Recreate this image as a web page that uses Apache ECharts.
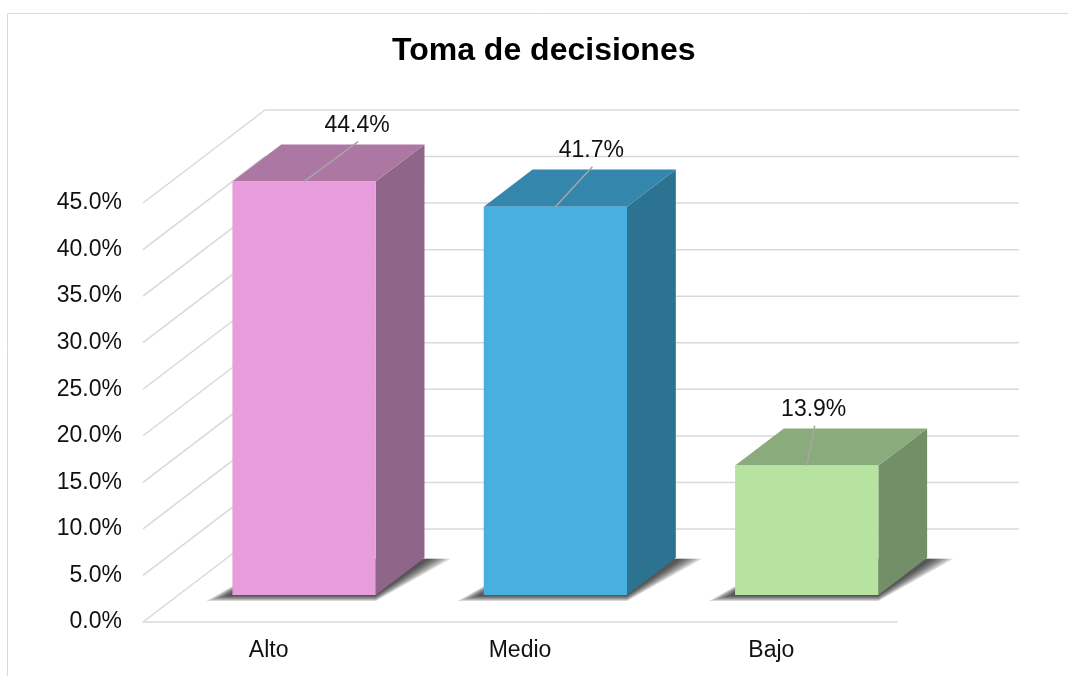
<!DOCTYPE html>
<html>
<head>
<meta charset="utf-8">
<script src="https://cdn.jsdelivr.net/npm/echarts@6/dist/echarts.min.js"></script>
<style>
  html, body { margin: 0; padding: 0; background: #fff; }
  #chart { width: 1068px; height: 676px; }
</style>
</head>
<body>
<div id="chart"></div>
<script>
// datos
const categories = ['Alto', 'Medio', 'Bajo']
const values = [44.4, 41.7, 13.9]
const yTicks = [0, 5, 10, 15, 20, 25, 30, 35, 40, 45]

// estilo de las barras: frente, tapa, lado
const faceColors = [
  ['#E79CDC', '#AD77A4', '#8F6689'],
  ['#47B0E0', '#3586AC', '#2C7391'],
  ['#B6E4A0', '#8AAB7B', '#738F67']
]
// desplazamiento de las etiquetas (como en el original)
const labelShiftX = [53, 36, 7]

const FONT = '"Liberation Sans", Arial, sans-serif'
const DX = 122   // profundidad del piso en x
const DY = -93   // profundidad del piso en y
const F0 = 0.29  // frente de la barra (fraccion de la profundidad)
const F1 = 0.69  // fondo de la barra
const GRID_COLOR = '#d9d9d9'

const myChart = echarts.init(document.getElementById('chart'))

/* paredes: lineas diagonales y lineas del fondo */
function renderWall(params, api) {
  const cs = params.coordSys
  const y = api.coord([0, api.value(1)])[1]
  const x0 = cs.x
  return {
    type: 'group',
    children: [
      {
        type: 'line',
        shape: { x1: x0, y1: y, x2: x0 + DX, y2: y + DY },
        style: { stroke: GRID_COLOR, lineWidth: 1.5 }
      },
      {
        type: 'line',
        shape: { x1: x0 + DX, y1: y + DY, x2: x0 + DX + cs.width, y2: y + DY },
        style: { stroke: GRID_COLOR, lineWidth: 1.5 }
      }
    ]
  }
}

/* barras 3D */
function renderBar(params, api) {
  const i = api.value(0)
  const base = api.coord([i, 0])
  const top = api.coord([i, api.value(1)])
  const w = api.size([1, 0])[0] * 0.57
  const c = faceColors[i]
  // frente
  const fx0 = base[0] + DX * F0 - w / 2
  const fx1 = fx0 + w
  const fyb = base[1] + DY * F0
  const fyt = top[1] + DY * F0
  // fondo
  const bdx = DX * (F1 - F0)
  const bdy = DY * (F1 - F0)
  const cx = (fx0 + fx1) / 2
  const lx = cx + labelShiftX[i]
  const ly = fyt - 56

  /* sombra difusa en el piso: varias capas */
  const shadow = []
  for (let k = 5; k >= 0; k--) {
    const e = k * 4
    shadow.push({
      type: 'polygon',
      shape: {
        points: [
          [fx0 - 6 - e, fyb + 1 + e * 0.25],
          [fx1, fyb + 1 + e * 0.25],
          [fx1 + bdx + 6 + e, fyb + bdy + 1],
          [fx0 + bdx, fyb + bdy + 1]
        ]
      },
      style: { fill: 'rgba(0,0,0,0.16)' }
    })
  }

  return {
    type: 'group',
    children: shadow.concat([
      {
        type: 'polygon',
        shape: { points: [[fx1, fyt], [fx1 + bdx, fyt + bdy], [fx1 + bdx, fyb + bdy], [fx1, fyb]] },
        style: { fill: c[2] }
      },
      {
        type: 'polygon',
        shape: { points: [[fx0, fyt], [fx0 + bdx, fyt + bdy], [fx1 + bdx, fyt + bdy], [fx1, fyt]] },
        style: { fill: c[1] }
      },
      {
        type: 'rect',
        shape: { x: fx0, y: fyt, width: w, height: fyb - fyt },
        style: { fill: c[0] }
      },
      {
        type: 'line',
        shape: { x1: cx, y1: fyt, x2: lx + 1, y2: ly + 16 },
        style: { stroke: '#a6a6a6', lineWidth: 1.5 }
      },
      {
        type: 'text',
        x: lx,
        y: ly,
        style: {
          text: api.value(1).toFixed(1) + '%',
          fill: '#111',
          font: '23px ' + FONT,
          align: 'center',
          verticalAlign: 'middle'
        }
      }
    ])
  }
}

const option = {
  backgroundColor: '#fff',
  animation: false,
  title: {
    text: 'Toma de decisiones',
    left: 392,
    top: 35,
    padding: 0,
    textStyle: { fontFamily: FONT, fontSize: 32, fontWeight: 'bold', color: '#000' }
  },
  graphic: [
    {
      type: 'rect',
      shape: { x: 7.5, y: 13.5, width: 1100, height: 700 },
      style: { fill: 'none', stroke: GRID_COLOR, lineWidth: 1 },
      z: -1
    }
  ],
  grid: { left: 143, right: 171, top: 203, bottom: 54 },
  xAxis: {
    type: 'category',
    data: categories,
    axisLine: { lineStyle: { color: GRID_COLOR, width: 1.5 } },
    axisTick: { show: false },
    axisLabel: { margin: 17, color: '#111', fontFamily: FONT, fontSize: 23 }
  },
  yAxis: {
    type: 'value',
    min: 0,
    max: 45,
    interval: 5,
    axisLine: { show: false },
    axisTick: { show: false },
    splitLine: { show: false },
    axisLabel: {
      margin: 21,
      color: '#111',
      fontFamily: FONT,
      fontSize: 23,
      formatter: v => v.toFixed(1) + '%'
    }
  },
  series: [
    {
      type: 'custom',
      renderItem: renderWall,
      data: yTicks.map(t => [0, t]),
      clip: false,
      silent: true,
      z: 1
    },
    {
      type: 'custom',
      renderItem: renderBar,
      data: values.map((v, i) => [i, v]),
      clip: false,
      z: 2
    }
  ]
}
option && myChart.setOption(option)
</script>
</body>
</html>
